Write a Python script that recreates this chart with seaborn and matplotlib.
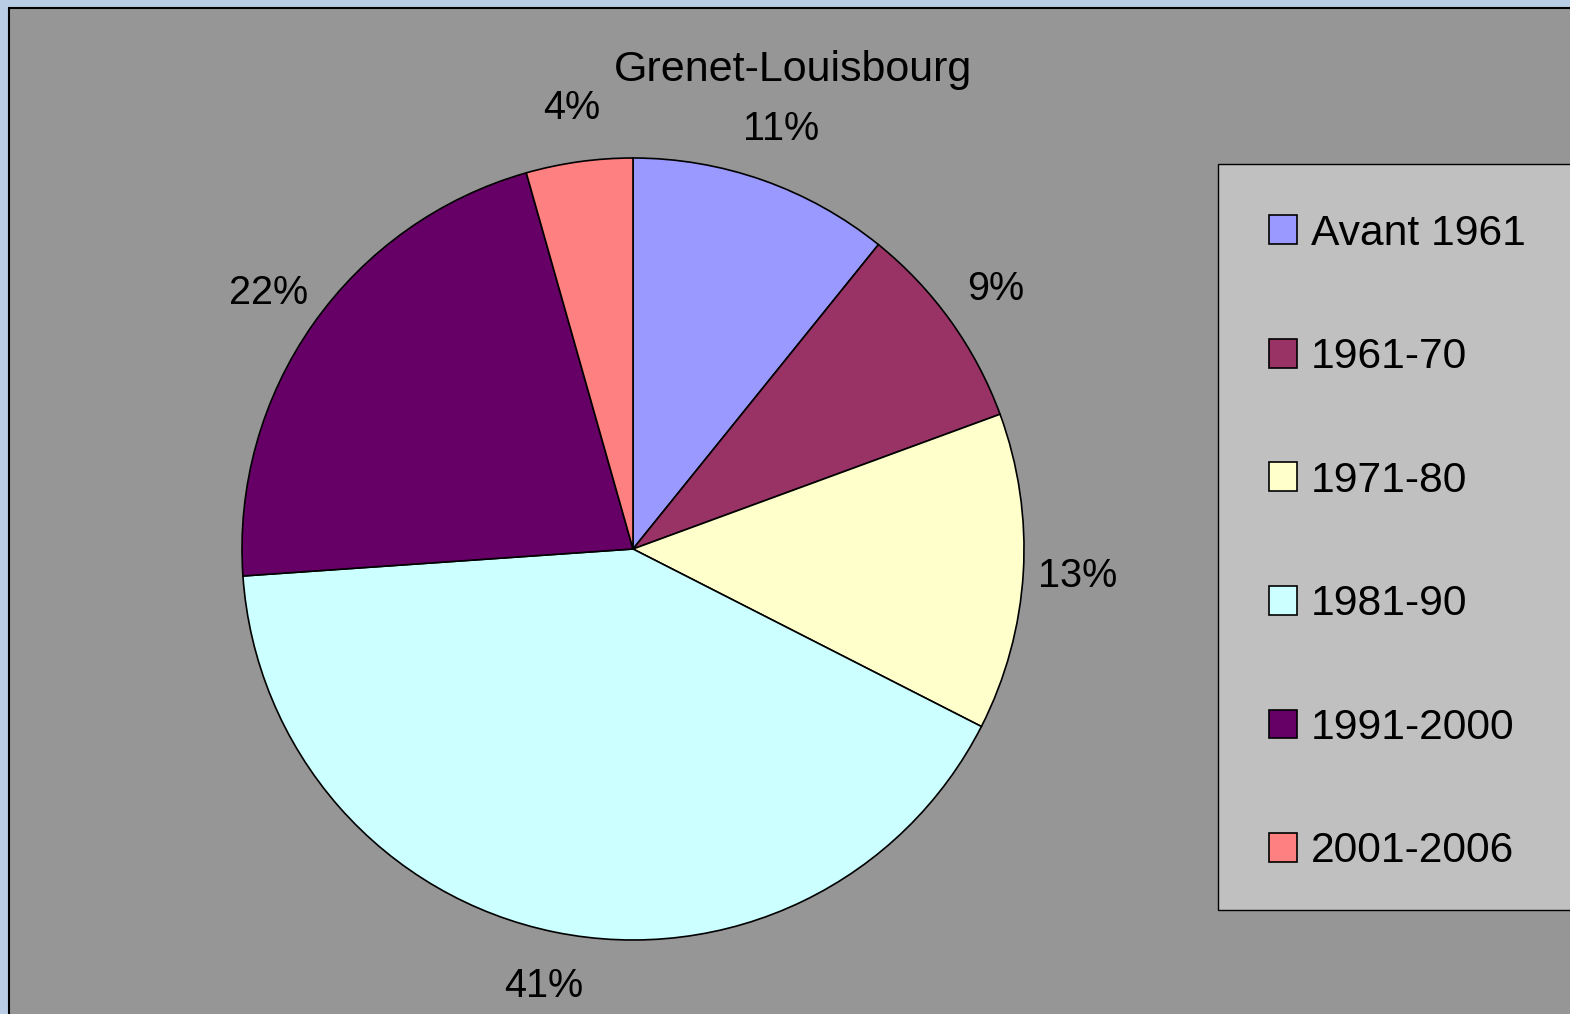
import matplotlib
matplotlib.use("Agg")
import matplotlib.pyplot as plt
from matplotlib.patches import Rectangle
import seaborn as sns

# share of dwellings by construction period
periods = ["Avant 1961", "1961-70", "1971-80", "1981-90", "1991-2000", "2001-2006"]
shares = [10.8, 8.6, 13.1, 41.4, 21.7, 4.4]
colors = ["#9999FF", "#993366", "#FFFFCC", "#CCFFFF", "#660066", "#FF8080"]
title = "Grenet-Louisbourg"

sns.set_style("white")
plt.rcParams["font.family"] = ["Liberation Sans", "DejaVu Sans"]
plt.rcParams["text.color"] = "black"

W, H = 1570, 1014
fig = plt.figure(figsize=(W / 100, H / 100), dpi=100)
fig.patch.set_facecolor("#B9CDE5")

# gray chart area
fig.patches.append(Rectangle((9 / W, -0.05), 1.1, (H - 8) / H + 0.05,
                             transform=fig.transFigure, facecolor="#969696",
                             edgecolor="black", linewidth=1.5, zorder=-2))
# legend box
fig.patches.append(Rectangle((1218 / W, (H - 910) / H), 0.5, (910 - 164) / H,
                             transform=fig.transFigure, facecolor="#C0C0C0",
                             edgecolor="black", linewidth=1.0, zorder=-1))

# pie axes: center (633, 549) px, radius 391 px
cx, cy, r, k = 633, H - 549, 391, 1.3
ax = fig.add_axes([(cx - r * k) / W, (cy - r * k) / H, 2 * r * k / W, 2 * r * k / H])
ax.set_zorder(1)
ax.patch.set_alpha(0)

wedges, texts, autotexts = ax.pie(
    shares, colors=colors, startangle=90, counterclock=False,
    autopct=lambda p: f"{p:.0f}%", pctdistance=1.14,
    wedgeprops=dict(edgecolor="black", linewidth=1.2),
    textprops=dict(fontsize=28.5, color="black"))
ax.set_xlim(-k, k)
ax.set_ylim(-k, k)
ax.set_aspect("equal")
ax.axis("off")

fig.text(793 / W, 1 - 70 / H, title, ha="center", va="center", fontsize=31,
         color="black")

leg = fig.legend(wedges, periods, loc="center left",
                 bbox_to_anchor=(1269 / W, (H - 542.5) / H),
                 frameon=False, fontsize=30.7, borderpad=0, borderaxespad=0,
                 handlelength=0.66, handleheight=0.66, handletextpad=0.33,
                 labelspacing=1.96)
leg.set_zorder(2)
for t in leg.get_texts():
    t.set_color("black")

fig.savefig("out.png", dpi=100, facecolor=fig.get_facecolor())
